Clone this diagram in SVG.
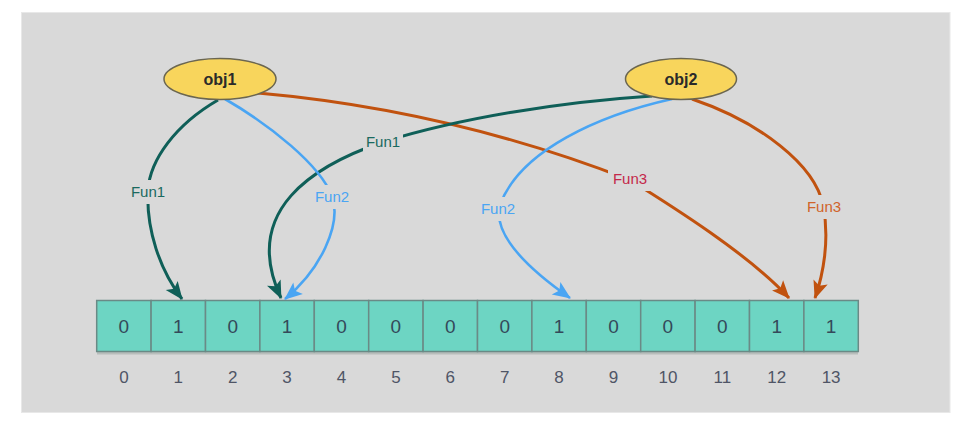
<svg xmlns="http://www.w3.org/2000/svg" width="958" height="434" viewBox="0 0 958 434">
<defs>
<style>
.cell{fill:#6dd5c3;stroke:#6a8a86;stroke-width:1.5}
.val{font-family:"Liberation Sans",Arial,sans-serif;font-size:19px;fill:#34495a;text-anchor:middle}
.idx{font-family:"Liberation Sans",Arial,sans-serif;font-size:17px;fill:#4f5566;text-anchor:middle}
.obj{fill:#f8d55c;stroke:#6b6650;stroke-width:1.5}
.objt{font-family:"Liberation Sans",Arial,sans-serif;font-size:16px;font-weight:bold;fill:#2a2a2a;text-anchor:middle}
.lbl{font-family:"Liberation Sans",Arial,sans-serif;font-size:15px;text-anchor:middle}
.lbg{fill:#d9d9d9}
.c{fill:none}
.teal{stroke:#0f5f58;stroke-width:3}
.blue{stroke:#4aa5f3;stroke-width:2.6}
.orng{stroke:#c1520f;stroke-width:3}
</style>
<marker id="aT" viewBox="-20 -9 22 18" refX="0" refY="0" markerWidth="22" markerHeight="18" markerUnits="userSpaceOnUse" orient="auto"><path d="M1,0 L-17,-7.5 L-13,0 L-17,7.5 Z" fill="#0f5f58"/></marker>
<marker id="aB" viewBox="-20 -9 22 18" refX="0" refY="0" markerWidth="22" markerHeight="18" markerUnits="userSpaceOnUse" orient="auto"><path d="M1,0 L-17,-7.5 L-13,0 L-17,7.5 Z" fill="#4aa5f3"/></marker>
<marker id="aO" viewBox="-20 -9 22 18" refX="0" refY="0" markerWidth="22" markerHeight="18" markerUnits="userSpaceOnUse" orient="auto"><path d="M1,0 L-17,-7.5 L-13,0 L-17,7.5 Z" fill="#c1520f"/></marker>
</defs>
<rect x="0" y="0" width="958" height="434" fill="#ffffff"/>
<rect x="21.5" y="12.5" width="928.5" height="400" fill="#d9d9d9" stroke="#e8e8e8" stroke-width="1"/>

<g id="array">
<rect x="97" y="352" width="761" height="2.5" fill="#b8bdbb"/>
<rect class="cell" x="96.7" y="300.5" width="54.4" height="51"/>
<rect class="cell" x="151.1" y="300.5" width="54.4" height="51"/>
<rect class="cell" x="205.5" y="300.5" width="54.4" height="51"/>
<rect class="cell" x="259.9" y="300.5" width="54.4" height="51"/>
<rect class="cell" x="314.3" y="300.5" width="54.4" height="51"/>
<rect class="cell" x="368.7" y="300.5" width="54.4" height="51"/>
<rect class="cell" x="423.1" y="300.5" width="54.4" height="51"/>
<rect class="cell" x="477.5" y="300.5" width="54.4" height="51"/>
<rect class="cell" x="531.9" y="300.5" width="54.4" height="51"/>
<rect class="cell" x="586.3" y="300.5" width="54.4" height="51"/>
<rect class="cell" x="640.7" y="300.5" width="54.4" height="51"/>
<rect class="cell" x="695.1" y="300.5" width="54.4" height="51"/>
<rect class="cell" x="749.5" y="300.5" width="54.4" height="51"/>
<rect class="cell" x="803.9" y="300.5" width="54.4" height="51"/>
<text class="val" x="123.9" y="333">0</text>
<text class="val" x="178.3" y="333">1</text>
<text class="val" x="232.7" y="333">0</text>
<text class="val" x="287.1" y="333">1</text>
<text class="val" x="341.5" y="333">0</text>
<text class="val" x="395.9" y="333">0</text>
<text class="val" x="450.3" y="333">0</text>
<text class="val" x="504.7" y="333">0</text>
<text class="val" x="559.1" y="333">1</text>
<text class="val" x="613.5" y="333">0</text>
<text class="val" x="667.9" y="333">0</text>
<text class="val" x="722.3" y="333">0</text>
<text class="val" x="776.7" y="333">1</text>
<text class="val" x="831.1" y="333">1</text>
<text class="idx" x="123.9" y="383">0</text>
<text class="idx" x="178.3" y="383">1</text>
<text class="idx" x="232.7" y="383">2</text>
<text class="idx" x="287.1" y="383">3</text>
<text class="idx" x="341.5" y="383">4</text>
<text class="idx" x="395.9" y="383">5</text>
<text class="idx" x="450.3" y="383">6</text>
<text class="idx" x="504.7" y="383">7</text>
<text class="idx" x="559.1" y="383">8</text>
<text class="idx" x="613.5" y="383">9</text>
<text class="idx" x="667.9" y="383">10</text>
<text class="idx" x="722.3" y="383">11</text>
<text class="idx" x="776.7" y="383">12</text>
<text class="idx" x="831.1" y="383">13</text>
</g>

<g id="connectors">
<path class="c orng" d="M258,93 Q450,110 630,180 C670,205 750,255 789,298" marker-end="url(#aO)"/>
<path class="c teal" d="M652,96 C560,102 460,118 383,142 C315,165 240,210 281,298" marker-end="url(#aT)"/>
<path class="c blue" d="M672,99 C600,115 520,150 500,205 C492,235 530,270 570,298" marker-end="url(#aB)"/>
<path class="c teal" d="M218,100 C175,125 150,160 148,190 C146,230 160,270 182,299" marker-end="url(#aT)"/>
<path class="c blue" d="M225,99 C270,125 320,165 332,196 C342,225 320,270 285,299" marker-end="url(#aB)"/>
<path class="c orng" d="M692,99 C760,122 815,165 823,205 C830,240 823,275 815,298" marker-end="url(#aO)"/>
<rect class="lbg" x="128" y="180" width="40" height="24"/>
<text class="lbl" x="148" y="197" fill="#1a6a60">Fun1</text>
<rect class="lbg" x="311" y="185" width="42" height="24"/>
<text class="lbl" x="332" y="202" fill="#4aa5f3">Fun2</text>
<rect class="lbg" x="363" y="130" width="40" height="24"/>
<text class="lbl" x="383" y="147" fill="#1a6a60">Fun1</text>
<rect class="lbg" x="477" y="197" width="42" height="24"/>
<text class="lbl" x="498" y="214" fill="#4aa5f3">Fun2</text>
<rect class="lbg" x="608" y="167" width="44" height="24"/>
<text class="lbl" x="630" y="184" fill="#c4284a">Fun3</text>
<rect class="lbg" x="802" y="195" width="44" height="24"/>
<text class="lbl" x="824" y="212" fill="#d0642a">Fun3</text>
</g>

<g id="obj1">
<ellipse class="obj" cx="220" cy="79" rx="56" ry="20.5"/>
<text class="objt" x="220" y="85">obj1</text>
</g>
<g id="obj2">
<ellipse class="obj" cx="681" cy="79" rx="55.5" ry="20.5"/>
<text class="objt" x="681" y="85">obj2</text>
</g>
</svg>
